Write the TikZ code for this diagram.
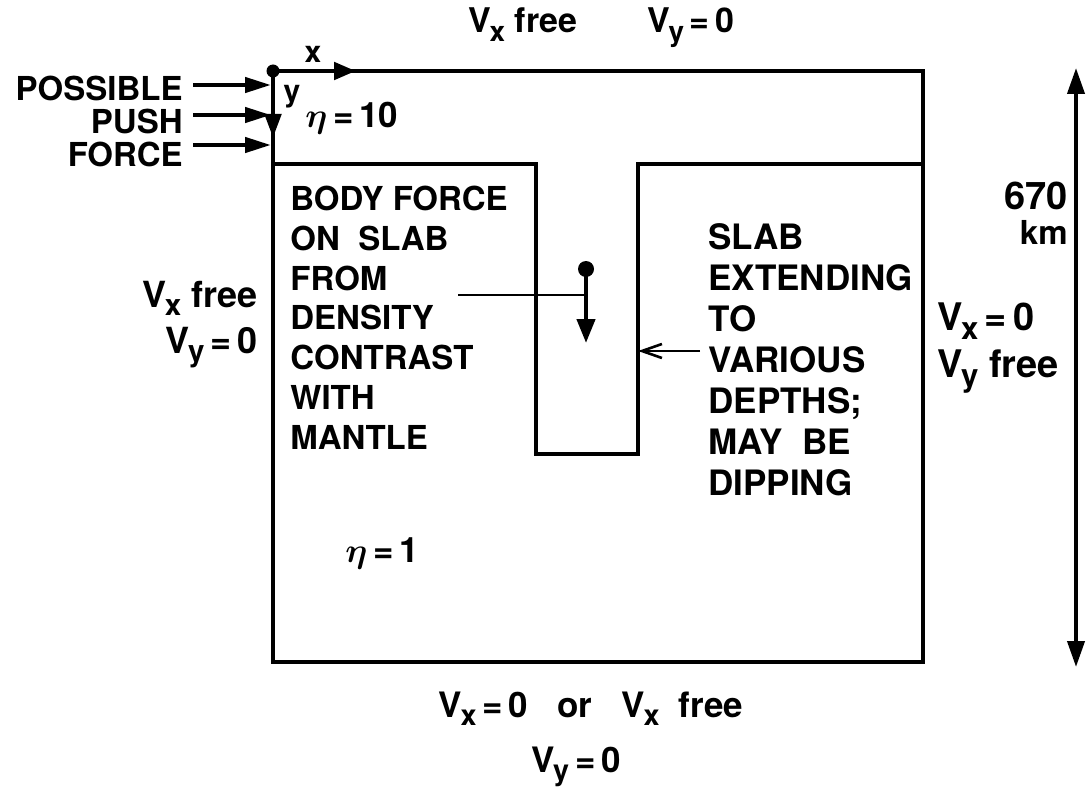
\documentclass[tikz,border=0pt]{standalone}
\usepackage{fontspec}
\setmainfont{TeX Gyre Heros}
\usepackage{amsmath}
\usepackage{graphicx}
\usetikzlibrary{arrows.meta}
\newcommand{\subl}[1]{\raisebox{-0.45ex}{\scalebox{0.82}{#1}}}
\newcommand{\Vel}[1]{V\kern-0.04em\subl{#1}}
\begin{document}
\begin{tikzpicture}[x=0.5pt,y=-0.5pt,
  boxline/.style={line width=2.4pt, line join=miter},
  slabline/.style={line width=2.2pt, line join=miter},
  thinline/.style={line width=1.3pt},
  fs/.style={font=\bfseries\fontsize{#1}{#1}\selectfont},
  txt/.style={inner sep=0pt},
]
\useasboundingbox (0,0) rectangle (1086,791);

% box geometry
\coordinate (O) at (273,71);
\coordinate (BR) at (923,662);
\coordinate (L1) at (273,164);
\coordinate (S1) at (536,164);
\coordinate (S2) at (536,454);
\coordinate (S3) at (638,454);
\coordinate (S4) at (638,164);
\coordinate (R1) at (923,164);

\draw[boxline] (O) rectangle (BR);
\draw[slabline] (L1) -- (S1) -- (S2) -- (S3) -- (S4) -- (R1);

% origin and axes
\fill (O) circle (6.5);
\coordinate (xtip) at (356,71);
\coordinate (ytip) at (273,138);
\draw[line width=2.4pt, -{Triangle[length=11pt,width=8.5pt]}] (O) -- (xtip);
\draw[line width=2.4pt, -{Triangle[length=12pt,width=8pt]}] (O) -- (ytip);
\node[txt, fs=15pt, anchor=base] (xlab) at (313,63) {x};
\node[txt, fs=15pt, anchor=base] (ylab) at (292,102) {y};

% top boundary condition
\node[txt, fs=17pt, anchor=base west] (topvx) at (468,33) {\Vel{x} free};
\node[txt, fs=17pt, anchor=base west] (topvy) at (647,33) {\Vel{y}\,=\,0};

% possible push force
\node[txt, fs=16.5pt, anchor=base east] (pos) at (183,101) {POSSIBLE};
\node[txt, fs=16.5pt, anchor=base east] (push) at (183,134) {PUSH};
\node[txt, fs=16.5pt, anchor=base east] (force) at (183,167) {FORCE};
\coordinate (e1) at (271,85);
\coordinate (e2) at (271,115);
\coordinate (e3) at (271,145);
\draw[line width=2.2pt, -{Triangle[length=13pt,width=7.5pt]}] (pos.east |- e1) ++(10,0) -- (e1);
\draw[line width=2.2pt, -{Triangle[length=13pt,width=7.5pt]}] (push.east |- e2) ++(10,0) -- (e2);
\draw[line width=2.2pt, -{Triangle[length=13pt,width=7.5pt]}] (force.east |- e3) ++(10,0) -- (e3);

% viscosities
\node[txt, fs=17.5pt, anchor=base west] (eta10) at (305,128) {$\boldsymbol{\eta}$\,=\,10};
\node[txt, fs=17.5pt, anchor=base west] (eta1) at (345,562) {$\boldsymbol{\eta}$\,=\,1};

% body force text
\node[txt, anchor=north west, align=left,
      font=\bfseries\fontsize{16.5pt}{19.85pt}\selectfont] (body) at (290,186)
  {BODY FORCE\\ON\ \ SLAB\\FROM\\DENSITY\\CONTRAST\\WITH\\MANTLE};

% slab text
\node[txt, anchor=north west, align=left,
      font=\bfseries\fontsize{17.5pt}{20.5pt}\selectfont] (slab) at (708,223)
  {SLAB\\EXTENDING\\TO\\VARIOUS\\DEPTHS;\\MAY\ \ BE\\DIPPING};

% body force arrow
\coordinate (D) at (586,269);
\coordinate (Dtip) at (586,343);
\coordinate (bf) at (458,295);
\fill (D) circle (8);
\draw[line width=2.2pt, -{Triangle[length=12pt,width=9pt]}] (D) -- (Dtip);
\draw[thinline] (bf) -- (bf -| D);

% slab pointer
\coordinate (vs) at (700,351);
\draw[thinline, -{Straight Barb[length=10pt,width=7pt]}] (vs) -- (vs -| S4);

% left boundary condition
\node[txt, fs=18pt, anchor=base east] (lvx) at (258,307) {\Vel{x} free};
\node[txt, fs=18pt, anchor=base east] (lvy) at (258,353) {\Vel{y}\,=\,0};

% right boundary condition
\node[txt, fs=19pt, anchor=base west] (rvx) at (937,330) {\Vel{x}\,=\,0};
\node[txt, fs=19pt, anchor=base west] (rvy) at (937,377) {\Vel{y} free};

% depth
\node[txt, fs=19pt, anchor=base east] (d670) at (1068,210) {670};
\node[txt, fs=16.5pt, anchor=base east] (dkm) at (1068,245) {km};
\coordinate (dt) at (1076,68);
\coordinate (db) at (1076,667);
\draw[line width=2pt, {Triangle[length=13pt,width=8.5pt]}-{Triangle[length=13pt,width=8.5pt]}] (dt) -- (db);

% bottom boundary condition
\node[txt, fs=17.5pt, anchor=base] (bvx) at (591,717) {\Vel{x}\,=\,0\ \ \ or\ \ \ \Vel{x}\ \ free};
\node[txt, fs=17.5pt, anchor=base] (bvy) at (576,772) {\Vel{y}\,=\,0};
\end{tikzpicture}
\end{document}
